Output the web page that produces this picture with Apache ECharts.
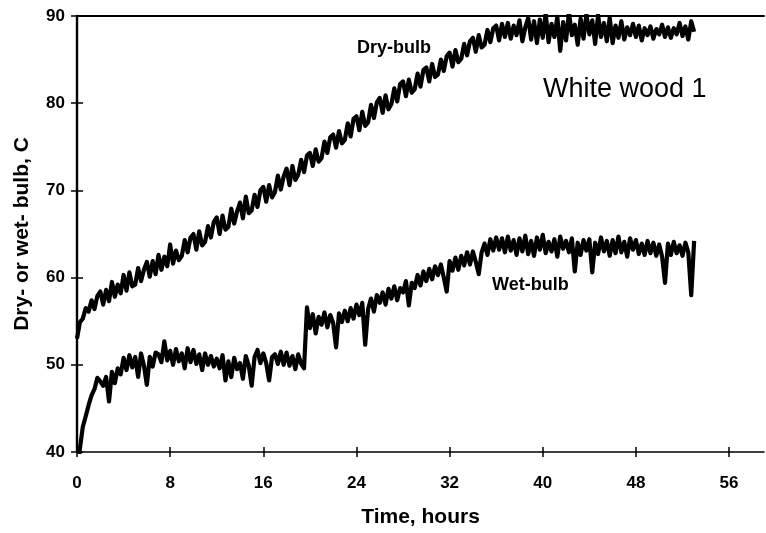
<!DOCTYPE html>
<html>
<head>
<meta charset="utf-8">
<script src="https://cdn.jsdelivr.net/npm/echarts@6/dist/echarts.min.js"></script>
<style>html,body{margin:0;padding:0;background:#fff}#c{width:766px;height:533px}</style>
</head>
<body>
<div id="c"></div>
<script>
const hours = [
0,0.25,0.5,0.75,1,1.25,1.5,1.75,2,2.25,2.5,2.75,3,3.25,3.5,3.75,4,4.25,4.5,4.75,
5,5.25,5.5,5.75,6,6.25,6.5,6.75,7,7.25,7.5,7.75,8,8.25,8.5,8.75,9,9.25,9.5,9.75,
10,10.25,10.5,10.75,11,11.25,11.5,11.75,12,12.25,12.5,12.75,13,13.25,13.5,13.75,14,14.25,14.5,14.75,
15,15.25,15.5,15.75,16,16.25,16.5,16.75,17,17.25,17.5,17.75,18,18.25,18.5,18.75,19,19.25,19.5,19.75,
20,20.25,20.5,20.75,21,21.25,21.5,21.75,22,22.25,22.5,22.75,23,23.25,23.5,23.75,24,24.25,24.5,24.75,
25,25.25,25.5,25.75,26,26.25,26.5,26.75,27,27.25,27.5,27.75,28,28.25,28.5,28.75,29,29.25,29.5,29.75,
30,30.25,30.5,30.75,31,31.25,31.5,31.75,32,32.25,32.5,32.75,33,33.25,33.5,33.75,34,34.25,34.5,34.75,
35,35.25,35.5,35.75,36,36.25,36.5,36.75,37,37.25,37.5,37.75,38,38.25,38.5,38.75,39,39.25,39.5,39.75,
40,40.25,40.5,40.75,41,41.25,41.5,41.75,42,42.25,42.5,42.75,43,43.25,43.5,43.75,44,44.25,44.5,44.75,
45,45.25,45.5,45.75,46,46.25,46.5,46.75,47,47.25,47.5,47.75,48,48.25,48.5,48.75,49,49.25,49.5,49.75,
50,50.25,50.5,50.75,51,51.25,51.5,51.75,52,52.25,52.5,52.75,53
];
const dryBulb = [
53.0,54.9,55.3,56.5, 56.1,57.4,56.4,57.9, 58.4,56.9,58.6,57.3, 59.5,57.8,59.2,58.2, 60.3,58.5,60.6,59.0,
59.2,61.1,59.6,60.9, 61.8,60.1,61.9,60.4, 62.6,60.9,62.4,61.3, 63.8,61.6,63.1,62.0, 62.5,64.3,62.9,64.6,
65.0,63.2,65.3,63.7, 64.1,65.9,64.6,66.4, 66.9,65.0,67.1,65.5, 65.8,67.9,66.2,67.6, 68.6,66.8,69.3,67.4,
67.7,69.5,68.1,70.0, 70.4,68.7,70.6,69.2, 69.8,71.7,70.1,71.6, 72.5,70.6,72.8,71.2, 71.8,73.5,72.1,74.0,
74.3,72.8,74.7,73.3, 73.7,75.6,74.3,76.1, 76.4,74.9,76.8,75.4, 75.8,77.7,76.2,78.2, 78.5,76.9,79.0,77.4,
77.8,79.8,78.3,80.1, 80.6,78.9,80.9,79.3, 79.9,81.7,80.2,82.2, 82.5,80.8,82.7,81.2, 81.6,83.4,81.9,83.8,
84.1,82.5,84.5,83.0, 83.3,85.0,83.7,85.4, 85.8,84.2,86.1,84.7, 85.1,86.8,85.5,87.1, 87.5,85.9,87.8,86.4,
86.7,88.4,87.0,88.6, 88.9,87.2,89.1,87.6, 89.2,87.4,88.9,87.8, 89.5,87.1,88.7,89.8, 87.3,89.4,86.9,89.6,
87.5,90.3,87.0,89.1, 87.6,89.9,86.0,89.3, 87.2,90.4,87.8,89.0, 86.7,89.7,87.4,90.2, 87.9,89.5,86.8,90.1,
87.6,89.2,87.1,89.8, 86.9,88.9,87.5,89.4, 87.3,88.7,87.8,89.1, 87.6,88.9,87.2,88.6, 87.8,88.8,87.4,88.5,
87.9,89.0,87.6,88.7, 87.5,88.6,87.9,89.2, 87.7,88.8,87.3,89.4, 88.2
];
const wetBulb = [
36.0,40.4,42.9,44.1, 45.4,46.5,47.2,48.5, 48.1,47.6,48.6,45.8, 49.2,47.9,49.6,48.9, 50.8,49.4,51.1,49.7,
50.9,48.6,51.3,49.9, 47.7,50.9,49.8,51.4, 51.2,50.3,52.7,50.5, 51.6,50.0,51.8,50.4, 51.3,49.6,51.9,50.3,
51.7,50.1,51.2,49.4, 51.3,50.0,51.0,49.8, 50.7,49.6,51.1,48.2, 50.4,48.6,50.8,49.5, 50.2,48.4,51.0,49.9,
47.6,50.9,51.7,50.2, 51.3,50.2,48.2,50.9, 51.2,50.1,51.5,50.0, 51.4,49.9,51.0,49.5, 51.2,50.1,49.6,56.6,
54.2,55.8,53.6,55.5, 54.6,56.0,54.3,55.7, 54.8,52.0,55.9,54.9, 56.2,55.0,56.5,55.3, 56.9,55.7,57.1,52.3,
56.4,57.6,56.1,58.0, 57.1,58.3,56.9,58.7, 57.6,59.0,57.4,58.8, 58.3,59.6,56.8,59.4, 58.8,60.3,59.1,60.7,
59.6,61.0,59.8,61.3, 60.3,61.5,60.0,58.4, 61.9,60.8,62.3,60.9, 62.5,61.4,62.9,61.5, 63.0,61.8,60.4,62.9,
63.9,62.6,64.4,63.1, 64.6,63.2,64.5,62.9, 64.7,63.1,64.3,62.6, 64.5,63.0,64.8,62.7, 64.2,62.5,64.6,63.2,
64.9,62.8,64.1,63.0, 64.4,62.4,64.7,63.3, 64.2,62.9,64.5,60.7, 64.0,62.6,64.3,63.1, 64.4,60.6,64.0,62.7,
64.6,63.0,64.2,62.5, 64.3,62.8,64.7,62.9, 64.1,62.4,64.5,63.2, 64.3,62.7,63.9,62.6, 64.2,62.8,64.0,62.5,
63.8,62.4,59.4,63.9, 62.6,64.1,62.8,63.7, 62.5,64.0,62.9,58.0, 64.2
];
const xTicks = [0, 8, 16, 24, 32, 40, 48, 56];
const yTicks = [40, 50, 60, 70, 80, 90];
const xMaxValue = 59;
const seriesNames = ['Dry-bulb', 'Wet-bulb'];
const chartTitle = 'White wood 1';
const xTitle = 'Time, hours';
const yTitle = 'Dry- or wet- bulb, C';

const FONT = 'Liberation Sans, Arial, sans-serif';
const zip = (xs, ys) => xs.map((x, i) => [x, ys[i]]);
const xMin = xTicks[0];
const yMin = yTicks[0], yMax = yTicks[yTicks.length - 1], yStep = yTicks[1] - yTicks[0];

const chart = echarts.init(document.getElementById('c'), null, {renderer: 'canvas'});
chart.setOption({
  animation: false,
  backgroundColor: '#fff',
  grid: {left: 77, right: 2, top: 16, bottom: 78, containLabel: false},
  xAxis: [
    {type: 'value', min: xMin, max: xMaxValue, position: 'bottom',
     axisLine: {show: true, lineStyle: {color: '#000', width: 1.6}},
     axisTick: {show: true, inside: false, length: 5, customValues: xTicks, lineStyle: {color: '#000', width: 1.5}},
     axisLabel: {color: '#000', fontWeight: 'bold', fontSize: 17, fontFamily: FONT, margin: 23, customValues: xTicks},
     splitLine: {show: false},
     name: xTitle, nameLocation: 'middle', nameGap: 55,
     nameTextStyle: {color: '#000', fontWeight: 'bold', fontSize: 21, fontFamily: FONT}},
    {type: 'value', min: xMin, max: xMaxValue, position: 'bottom', offset: 0,
     axisLine: {show: false},
     axisTick: {show: true, inside: true, length: 5, customValues: xTicks, lineStyle: {color: '#000', width: 1.5}},
     axisLabel: {show: false}, splitLine: {show: false}},
    {type: 'value', min: xMin, max: xMaxValue, position: 'top',
     axisLine: {show: true, lineStyle: {color: '#000', width: 2}},
     axisTick: {show: false}, axisLabel: {show: false}, splitLine: {show: false}}
  ],
  yAxis: [
    {type: 'value', min: yMin, max: yMax, interval: yStep, position: 'left',
     axisLine: {show: true, lineStyle: {color: '#000', width: 2.4}},
     axisTick: {show: true, inside: false, length: 6, lineStyle: {color: '#000', width: 1.5}},
     axisLabel: {color: '#000', fontWeight: 'bold', fontSize: 17, fontFamily: FONT, margin: 12},
     splitLine: {show: false},
     name: yTitle, nameLocation: 'middle', nameGap: 44, nameRotate: 90,
     nameTextStyle: {color: '#000', fontWeight: 'bold', fontSize: 21, fontFamily: FONT}},
    {type: 'value', min: yMin, max: yMax, interval: yStep, position: 'left', offset: 0,
     axisLine: {show: false},
     axisTick: {show: true, inside: true, length: 6, lineStyle: {color: '#000', width: 1.5}},
     axisLabel: {show: false}, splitLine: {show: false}}
  ],
  series: [
    {name: seriesNames[0], type: 'line', xAxisIndex: 0, yAxisIndex: 0, data: zip(hours, dryBulb),
     showSymbol: false, symbol: 'none', clip: true,
     lineStyle: {color: '#000', width: 4.2, join: 'round'}},
    {name: seriesNames[1], type: 'line', xAxisIndex: 0, yAxisIndex: 0, data: zip(hours, wetBulb),
     showSymbol: false, symbol: 'none', clip: true,
     lineStyle: {color: '#000', width: 4.2, join: 'round'}}
  ],
  graphic: [
    {type: 'text', left: 357, top: 39, style: {text: seriesNames[0], fill: '#000', font: 'bold 18px ' + FONT}},
    {type: 'text', left: 492, top: 276, style: {text: seriesNames[1], fill: '#000', font: 'bold 18px ' + FONT}},
    {type: 'text', left: 543, top: 76, style: {text: chartTitle, fill: '#000', font: '27px ' + FONT}}
  ]
});
</script>
</body>
</html>
